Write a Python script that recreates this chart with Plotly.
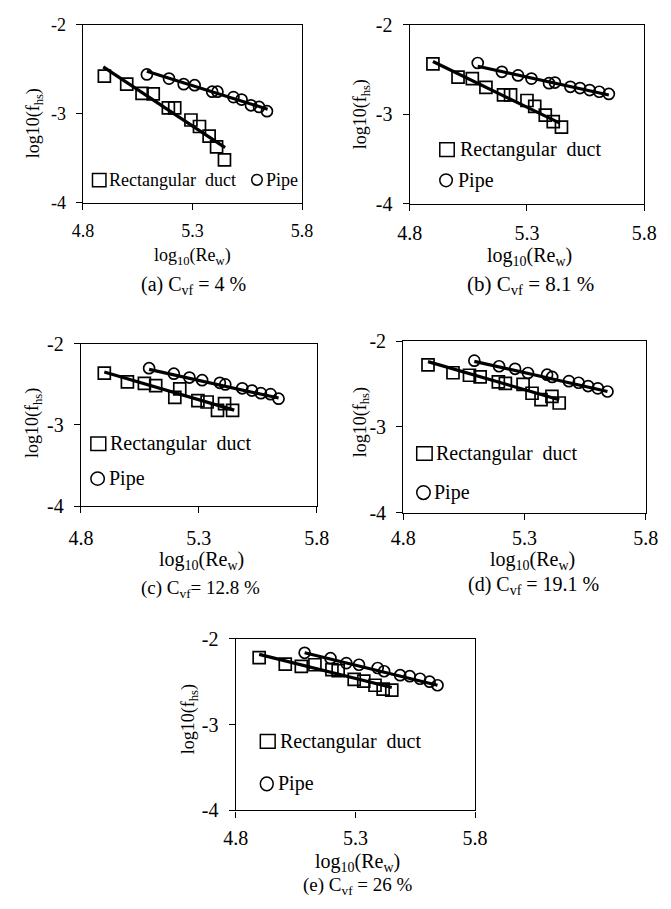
import plotly.graph_objects as go

W, H = 671, 909
FONT = "Liberation Serif"

# ---------------- data ----------------
x_ticks = [4.8, 5.3, 5.8]
x_tick_text = ["4.8", "5.3", "5.8"]
y_ticks = [-4, -3, -2]
y_tick_text = ["-4", "-3", "-2"]

panel_labels = ["(a) C<sub>vf</sub> = 4 %", "(b) C<sub>vf</sub> = 8.1 %", "(c) C<sub>vf</sub>= 12.8 %",
                "(d) C<sub>vf</sub> = 19.1 %", "(e) C<sub>vf</sub> = 26 %"]
series_names = ["Rectangular  duct", "Pipe"]

a_rect_x = [4.898, 5.000, 5.070, 5.121, 5.190, 5.219, 5.293, 5.332, 5.376, 5.410, 5.446]
a_rect_y = [-2.575, -2.666, -2.768, -2.775, -2.932, -2.932, -3.068, -3.141, -3.250, -3.371, -3.517]
a_pipe_x = [5.092, 5.193, 5.260, 5.310, 5.390, 5.414, 5.487, 5.524, 5.567, 5.604, 5.640]
a_pipe_y = [-2.556, -2.603, -2.666, -2.677, -2.750, -2.750, -2.811, -2.838, -2.903, -2.921, -2.969]
a_rect_fit_x = [4.893, 5.449]
a_rect_fit_y = [-2.472, -3.379]
a_pipe_fit_x = [5.092, 5.643]
a_pipe_fit_y = [-2.520, -2.947]

b_rect_x = [4.899, 5.006, 5.067, 5.125, 5.200, 5.230, 5.300, 5.333, 5.378, 5.412, 5.447]
b_rect_y = [-2.437, -2.584, -2.601, -2.700, -2.784, -2.784, -2.846, -2.911, -3.010, -3.082, -3.144]
b_pipe_x = [5.090, 5.193, 5.262, 5.319, 5.394, 5.419, 5.485, 5.526, 5.567, 5.608, 5.649]
b_pipe_y = [-2.426, -2.525, -2.565, -2.601, -2.652, -2.645, -2.693, -2.707, -2.729, -2.748, -2.773]
b_rect_fit_x = [4.899, 5.440]
b_rect_fit_y = [-2.409, -3.100]
b_pipe_fit_x = [5.090, 5.649]
b_pipe_fit_y = [-2.463, -2.784]

c_rect_x = [4.899, 4.997, 5.069, 5.117, 5.219, 5.198, 5.296, 5.335, 5.409, 5.379, 5.443]
c_rect_y = [-2.361, -2.469, -2.489, -2.517, -2.557, -2.661, -2.701, -2.718, -2.737, -2.821, -2.821]
c_pipe_x = [5.089, 5.194, 5.260, 5.314, 5.389, 5.412, 5.484, 5.525, 5.563, 5.604, 5.638]
c_pipe_y = [-2.301, -2.369, -2.417, -2.449, -2.481, -2.501, -2.549, -2.577, -2.609, -2.621, -2.677]
c_rect_fit_x = [4.899, 5.450]
c_rect_fit_y = [-2.349, -2.818]
c_pipe_fit_x = [5.089, 5.638]
c_pipe_fit_y = [-2.316, -2.669]

d_rect_x = [4.902, 5.005, 5.073, 5.117, 5.192, 5.221, 5.294, 5.331, 5.368, 5.413, 5.443]
d_rect_y = [-2.278, -2.369, -2.398, -2.418, -2.475, -2.494, -2.505, -2.608, -2.683, -2.645, -2.722]
d_pipe_x = [5.093, 5.195, 5.261, 5.314, 5.393, 5.414, 5.483, 5.523, 5.562, 5.602, 5.642]
d_pipe_y = [-2.228, -2.293, -2.323, -2.372, -2.392, -2.418, -2.467, -2.486, -2.524, -2.551, -2.588]
d_rect_fit_x = [4.902, 5.443]
d_rect_fit_y = [-2.239, -2.683]
d_pipe_fit_x = [5.093, 5.642]
d_pipe_fit_y = [-2.236, -2.588]

e_rect_x = [4.898, 5.007, 5.074, 5.131, 5.202, 5.228, 5.295, 5.335, 5.382, 5.416, 5.452]
e_rect_y = [-2.220, -2.295, -2.322, -2.303, -2.360, -2.372, -2.474, -2.493, -2.542, -2.588, -2.599]
e_pipe_x = [5.088, 5.196, 5.262, 5.315, 5.393, 5.420, 5.487, 5.527, 5.570, 5.610, 5.643]
e_pipe_y = [-2.164, -2.227, -2.284, -2.303, -2.341, -2.379, -2.425, -2.436, -2.466, -2.500, -2.542]
e_rect_fit_x = [4.898, 5.452]
e_rect_fit_y = [-2.182, -2.568]
e_pipe_fit_x = [5.088, 5.643]
e_pipe_fit_y = [-2.164, -2.542]

panels_data = [
    (a_rect_x, a_rect_y, a_pipe_x, a_pipe_y, a_rect_fit_x, a_rect_fit_y, a_pipe_fit_x, a_pipe_fit_y),
    (b_rect_x, b_rect_y, b_pipe_x, b_pipe_y, b_rect_fit_x, b_rect_fit_y, b_pipe_fit_x, b_pipe_fit_y),
    (c_rect_x, c_rect_y, c_pipe_x, c_pipe_y, c_rect_fit_x, c_rect_fit_y, c_pipe_fit_x, c_pipe_fit_y),
    (d_rect_x, d_rect_y, d_pipe_x, d_pipe_y, d_rect_fit_x, d_rect_fit_y, d_pipe_fit_x, d_pipe_fit_y),
    (e_rect_x, e_rect_y, e_pipe_x, e_pipe_y, e_rect_fit_x, e_rect_fit_y, e_pipe_fit_x, e_pipe_fit_y),
]

# ---------------- layout geometry (pixels) ----------------
# plot boxes: left, right, top, bottom
boxes = [
    (72.7, 300.7, 14.3, 196.7),
    (412.7, 656.7, 14.3, 197.3),
    (70.7, 316.0, 341.0, 507.3),
    (406.0, 658.3, 338.3, 514.0),
    (231.7, 480.7, 643.3, 819.3),
]
# text placement: (xtitle_x, xtitle_y, caption_x, caption_y, ytitle_x, ytitle_y)
texts = [
    (186.7, 252, 188, 281, 22, 115),
    (537, 252, 538, 281, 363, 106),
    (196, 563, 195, 592, 22, 422),
    (540, 563, 541, 589, 362.5, 421),
    (358, 873, 359, 897, 184, 726),
]
# legend: (square box l,r,t,b, rect text x, rect text y, circle box l,r,t,b, pipe text x, pipe text y)
legends = [
    ((82.7, 96.7, 166.5, 180.0), 97.5, 173.5, (248.3, 259.3, 167.5, 178.5), 261.5, 173.5),
    ((444.0, 459.0, 135.0, 149.0), 462.5, 142.0, (444.0, 457.0, 167.0, 180.0), 461.0, 173.5),
    ((81.0, 96.5, 436.5, 450.5), 99.0, 443.5, (81.0, 95.0, 472.5, 486.0), 97.5, 479.5),
    ((420.0, 436.0, 446.5, 460.5), 438.0, 453.5, (420.0, 434.0, 486.5, 500.5), 436.0, 493.5),
    ((257.3, 272.7, 741.5, 755.5), 275.5, 748.5, (257.3, 270.7, 785.0, 799.0), 273.5, 792.0),
]
font_sizes = [18, 20, 20, 20, 20]
ytitle_size = 18
caption_sizes = [20, 21, 19, 20, 19]
x_label_standoff = [5, 5, 8, 1, 3]
y_label_standoff = 6


def px(x):
    return x / W


def py(y):
    return 1 - y / H


fig = go.Figure()
annotations = []
shapes = []

for i, (data, box, tx, lg, fs) in enumerate(zip(panels_data, boxes, texts, legends, font_sizes)):
    rx, ry, pxs, pys, rfx, rfy, pfx, pfy = data
    n = "" if i == 0 else str(i + 1)
    xa, ya = "x" + n, "y" + n

    fig.add_trace(go.Scatter(x=rfx, y=rfy, mode="lines", xaxis=xa, yaxis=ya,
                             line=dict(color="black", width=3.2), showlegend=False, hoverinfo="skip"))
    fig.add_trace(go.Scatter(x=pfx, y=pfy, mode="lines", xaxis=xa, yaxis=ya,
                             line=dict(color="black", width=3.2), showlegend=False, hoverinfo="skip"))
    fig.add_trace(go.Scatter(x=rx, y=ry, mode="markers", xaxis=xa, yaxis=ya, name=series_names[0],
                             marker=dict(symbol="square-open", size=12, color="black",
                                         line=dict(width=1.7, color="black")),
                             showlegend=False))
    fig.add_trace(go.Scatter(x=pxs, y=pys, mode="markers", xaxis=xa, yaxis=ya, name=series_names[1],
                             marker=dict(symbol="circle-open", size=11, color="black",
                                         line=dict(width=1.7, color="black")),
                             showlegend=False))

    l, r, t, b = box
    common = dict(showgrid=False, zeroline=False, showline=True, mirror=True, linecolor="black",
                  linewidth=1.4, ticks="outside", ticklen=6, tickcolor="black", tickwidth=1.4,
                  tickfont=dict(family=FONT, size=fs, color="black"))
    fig.update_layout(**{
        ("xaxis" + n): dict(domain=[px(l), px(r)], range=[4.8, 5.8], tickvals=x_ticks,
                            ticktext=x_tick_text, anchor=ya, ticklabelstandoff=x_label_standoff[i],
                            **common),
        ("yaxis" + n): dict(domain=[py(b), py(t)], range=[-4, -2], tickvals=y_ticks,
                            ticktext=y_tick_text, anchor=xa, ticklabelstandoff=y_label_standoff,
                            **common),
    })

    xtx, xty, cx, cy, ytx, yty = tx
    annotations.append(dict(text="log<sub>10</sub>(Re<sub>w</sub>)", x=px(xtx), y=py(xty), xref="paper",
                            yref="paper", showarrow=False, xanchor="center", yanchor="middle",
                            font=dict(family=FONT, size=fs, color="black")))
    annotations.append(dict(text=panel_labels[i], x=px(cx), y=py(cy), xref="paper", yref="paper",
                            showarrow=False, xanchor="center", yanchor="middle",
                            font=dict(family=FONT, size=caption_sizes[i], color="black")))
    annotations.append(dict(text="log10(f<sub>hs</sub>)", x=px(ytx), y=py(yty), xref="paper",
                            yref="paper", showarrow=False, xanchor="center", yanchor="middle",
                            textangle=-90, font=dict(family=FONT, size=ytitle_size, color="black")))

    sq, rtx, rty, ci, ptx, pty = lg
    shapes.append(dict(type="rect", xref="paper", yref="paper", x0=px(sq[0]), x1=px(sq[1]),
                       y0=py(sq[3]), y1=py(sq[2]), line=dict(color="black", width=1.5)))
    shapes.append(dict(type="circle", xref="paper", yref="paper", x0=px(ci[0]), x1=px(ci[1]),
                       y0=py(ci[3]), y1=py(ci[2]), line=dict(color="black", width=1.5)))
    annotations.append(dict(text=series_names[0], x=px(rtx), y=py(rty), xref="paper", yref="paper",
                            showarrow=False, xanchor="left", yanchor="middle",
                            font=dict(family=FONT, size=fs, color="black")))
    annotations.append(dict(text=series_names[1], x=px(ptx), y=py(pty), xref="paper", yref="paper",
                            showarrow=False, xanchor="left", yanchor="middle",
                            font=dict(family=FONT, size=fs, color="black")))

fig.update_layout(width=W, height=H, margin=dict(l=0, r=0, t=0, b=0),
                  paper_bgcolor="white", plot_bgcolor="white",
                  annotations=annotations, shapes=shapes, showlegend=False)

fig.write_html("out.html", config={"displayModeBar": False})
